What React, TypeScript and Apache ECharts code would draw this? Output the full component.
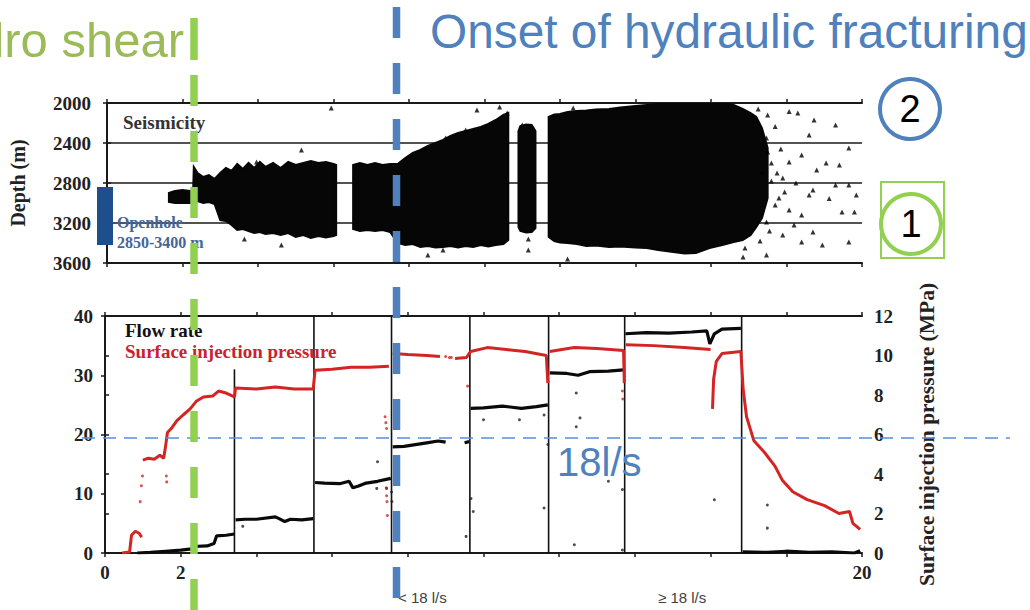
import React, { useEffect, useRef } from "react";
import * as echarts from "echarts";

// ---------- DATA ----------
const labelledDays = [0, 2, 20];

// seismic clouds: [day, top depth (m), bottom depth (m)]
const cloudEarly = [
  [1.64, 2900, 2990], [1.8, 2880, 3000], [2.0, 2870, 3000], [2.2, 2880, 3000], [2.28, 2900, 2990],
  [2.3, 2640, 3000], [2.4, 2700, 2980], [2.55, 2740, 3000], [2.7, 2720, 2990], [2.85, 2760, 3010],
  [3.0, 2700, 3170], [3.15, 2650, 3180], [3.3, 2680, 3220], [3.45, 2610, 3270], [3.6, 2660, 3260],
  [3.75, 2600, 3280], [3.9, 2650, 3300], [4.05, 2590, 3290], [4.2, 2640, 3310], [4.4, 2600, 3300],
  [4.6, 2650, 3320], [4.8, 2590, 3300], [5.0, 2620, 3340], [5.2, 2600, 3320], [5.4, 2580, 3350],
  [5.6, 2600, 3330], [5.8, 2590, 3345], [6.0, 2610, 3330], [6.07, 2620, 3320],
];
const cloudMiddle = [
  [6.52, 2620, 3260], [6.7, 2600, 3280], [6.9, 2620, 3270], [7.1, 2600, 3280], [7.3, 2620, 3270],
  [7.5, 2610, 3290], [7.7, 2610, 3400], [7.9, 2550, 3420], [8.1, 2500, 3410], [8.3, 2470, 3440],
  [8.5, 2430, 3430], [8.7, 2400, 3445], [8.9, 2370, 3440], [9.1, 2330, 3430], [9.3, 2300, 3445],
  [9.5, 2280, 3430], [9.7, 2260, 3440], [9.9, 2240, 3420], [10.1, 2210, 3435], [10.3, 2170, 3420],
  [10.5, 2120, 3410], [10.63, 2100, 3370],
];
const cloudNarrow = [
  [10.9, 2280, 3240], [10.95, 2230, 3280], [11.1, 2215, 3295], [11.25, 2220, 3290], [11.35, 2280, 3250],
];
const cloudLate = [
  [11.7, 2140, 3340], [11.85, 2115, 3380], [12.0, 2110, 3395], [12.2, 2090, 3400], [12.45, 2080, 3410],
  [12.7, 2075, 3430], [12.95, 2065, 3425], [13.3, 2060, 3440], [13.6, 2045, 3435], [14.0, 2030, 3445],
  [14.3, 2020, 3450], [14.6, 2010, 3470], [15.0, 2000, 3490], [15.3, 2000, 3505], [15.6, 2000, 3500],
  [15.96, 2000, 3450], [16.3, 2000, 3420], [16.6, 2020, 3390], [16.84, 2060, 3370], [17.05, 2100, 3320],
  [17.2, 2140, 3240], [17.35, 2250, 3150], [17.5, 2450, 2950],
];
const seismicClouds = [cloudEarly, cloudMiddle, cloudNarrow, cloudLate];

// isolated events: [day, depth]
const seismicSparse = [
  [5.94, 2050], [5.15, 2470], [4.62, 3420], [3.64, 3360], [3.96, 2590], [3.48, 2640],
  [9.8, 2070], [10.4, 2040], [10.6, 2100], [9.5, 2270], [8.97, 2350], [8.9, 3470], [8.5, 3520],
  [11.16, 3360], [11.0, 2220], [12.2, 3560], [12.35, 2050], [11.16, 3470],
  [18.07, 2085], [19.3, 2220], [18.73, 2170], [18.6, 2320], [17.7, 2235], [18.07, 2590],
  [18.4, 2520], [19.05, 2600], [19.4, 2620], [18.8, 2670], [17.9, 2750], [18.25, 2800],
  [18.7, 2870], [19.13, 2955], [19.47, 3090], [19.8, 3090], [18.4, 3120], [17.7, 3020],
  [18.07, 3070], [18.7, 3290], [18.4, 3390], [18.95, 3420], [19.65, 3390], [16.85, 3540],
  [17.47, 3520], [17.9, 3320], [17.47, 3190], [17.5, 2490], [17.47, 2350], [17.5, 2120],
  [18.3, 2100], [19.65, 2450], [19.3, 2820], [19.65, 2820], [19.85, 2920], [18.6, 2920],
  [17.35, 2690], [17.95, 2890], [17.6, 2600], [17.8, 2950], [18.2, 3220], [17.3, 3380],
  [17.6, 2780], [17.75, 2700], [17.55, 3280], [17.85, 2460], [17.25, 2060], [16.9, 3450],
];

// flow rate (l/s): [day, value]; null = gap
const flowRate: [number, number | null][] = [
  [0.85, 0.0], [1.2, 0.1], [1.6, 0.3], [2.0, 0.5], [2.3, 0.7], [2.33, 1.1], [2.7, 1.2],
  [2.88, 1.6], [2.95, 2.9], [3.2, 3.0], [3.42, 3.2], [3.43, null],
  [3.45, 5.6], [3.7, 5.7], [4.0, 5.7], [4.5, 6.1], [4.6, 5.8], [4.75, 5.3], [4.9, 5.7],
  [5.2, 5.6], [5.5, 5.8], [5.51, null],
  [5.55, 11.9], [5.8, 11.8], [6.2, 11.7], [6.45, 12.1], [6.55, 11.0], [6.7, 11.3],
  [6.9, 11.8], [7.2, 12.1], [7.55, 12.6], [7.56, null],
  [7.6, 17.9], [7.9, 18.0], [8.2, 18.3], [8.5, 18.6], [8.8, 18.9], [9.0, 18.7], [9.05, null],
  [9.5, 18.6], [9.62, 18.8], [9.63, null],
  [9.66, 24.4], [10.0, 24.5], [10.5, 24.8], [11.0, 24.4], [11.4, 24.7], [11.7, 25.0], [11.71, null],
  [11.75, 30.4], [12.2, 30.3], [12.5, 30.0], [12.8, 30.6], [13.3, 30.7], [13.7, 30.9], [13.71, null],
  [13.75, 37.0], [14.3, 37.2], [14.9, 37.1], [15.5, 37.3], [15.9, 37.5], [15.98, 35.3],
  [16.1, 37.0], [16.3, 37.8], [16.8, 37.9], [16.81, null],
  [16.85, 0.2], [17.5, 0.1], [18.0, 0.3], [18.6, 0.1], [19.2, 0.2], [19.8, 0.0], [19.95, 0.4],
];

// surface injection pressure (MPa): [day, value]; null = gap
const pressure: [number, number | null][] = [
  [0.45, 0.0], [0.65, 0.05], [0.7, 0.9], [0.8, 1.1], [0.9, 1.0], [0.97, 0.8], [0.98, null],
  [1.0, 4.7], [1.15, 4.8], [1.3, 4.75], [1.45, 4.95], [1.55, 4.8], [1.6, 5.4], [1.65, 6.1],
  [1.75, 6.3], [1.9, 6.7], [2.07, 7.0], [2.25, 7.3], [2.42, 7.7], [2.6, 7.9], [2.85, 7.95],
  [3.0, 8.2], [3.2, 8.1], [3.42, 7.9],
  [3.45, 8.35], [4.0, 8.3], [4.5, 8.4], [5.0, 8.3], [5.5, 8.3],
  [5.55, 9.25], [6.0, 9.3], [6.5, 9.4], [7.0, 9.4], [7.5, 9.45], [7.52, null],
  [7.6, 10.1], [8.0, 10.05], [8.5, 10.0], [8.85, 9.95], [8.86, null],
  [9.25, 9.85], [9.55, 9.9], [9.62, 10.1], [9.66, 10.2], [10.1, 10.4], [10.6, 10.3],
  [11.1, 10.2], [11.66, 10.0], [11.7, 8.6], [11.71, null],
  [11.75, 10.2], [12.4, 10.4], [13.0, 10.35], [13.7, 10.25], [13.72, 8.6], [13.73, null],
  [13.76, 10.55], [14.5, 10.5], [15.3, 10.4], [16.0, 10.3], [16.02, null],
  [16.05, 7.3], [16.08, 8.8], [16.15, 9.7], [16.3, 10.1], [16.8, 10.2],
  [16.86, 8.3], [16.95, 6.9], [17.14, 5.7], [17.42, 5.1], [17.7, 4.4], [17.89, 3.7],
  [18.17, 3.1], [18.55, 2.7], [19.01, 2.4], [19.39, 2.0], [19.67, 2.1], [19.76, 1.5], [19.95, 1.2],
];

const flowOutliers = [
  [3.64, 4.5], [7.18, 10.9], [7.2, 15.4], [7.44, 10.9], [7.57, 10.3], [7.58, 8.7],
  [9.67, 9.2], [9.54, 2.8], [10.0, 22.5], [10.95, 22.5], [11.6, 23.3], [9.73, 7.0],
  [11.6, 7.6], [12.45, 27.0], [12.55, 22.8], [12.45, 21.3], [13.3, 12.1], [12.4, 1.4],
  [13.67, 10.7], [16.1, 9.0], [17.5, 8.1], [17.5, 4.2], [11.7, 18.3], [13.67, 0.5],
];
const pressureOutliers = [
  [0.93, 2.6], [0.96, 3.4], [0.99, 3.9], [1.62, 3.9], [1.63, 3.6], [7.4, 6.9], [7.42, 6.6],
  [7.44, 6.3], [7.43, 3.3], [7.44, 2.9], [7.45, 2.6], [7.46, 1.9], [9.58, 8.45],
  [13.67, 8.2], [13.68, 7.8], [9.0, 9.95], [9.1, 9.9], [9.15, 9.9],
];

// injection step boundaries: day and top of the separator (l/s)
const stepDays = [3.42, 5.52, 7.57, 9.64, 11.72, 13.73, 16.82];
const stepTops = [31, 40, 40, 40, 40, 40, 40];

// ---------- STYLE ----------
const serif = "'Liberation Serif', 'Times New Roman', serif";
const sans = "'Liberation Sans', Arial, sans-serif";
const ink = "#1a1a1a";
const tickLabel = {
  fontFamily: serif,
  fontWeight: "bold" as const,
  fontSize: 19,
  color: "#222",
  formatter: (v: number) => String(v),
};
const blue = "#4F81BD";
const green = "#92D050";

function baseX(gridIndex: number, position: string, labels: boolean) {
  return {
    type: "value",
    gridIndex,
    position,
    min: 0,
    max: 20,
    interval: 2,
    axisLine: { show: true, onZero: false, lineStyle: { color: ink, width: 2 } },
    axisTick: { show: true, length: 4, lineStyle: { color: ink, width: 1.5 } },
    axisLabel: labels
      ? { show: true, ...tickLabel, margin: 10, formatter: (v: number) => (labelledDays.includes(v) ? String(v) : "") }
      : { show: false },
    splitLine: { show: false },
  };
}

const gap = (arr: [number, number | null][]) => arr.map((p) => [p[0], p[1] === null ? "-" : p[1]]);

function buildOption() {
  const text = (t: string, x: number, y: number, font: string, fill: string, align = "left", z = 50) => ({
    type: "text",
    x,
    y,
    z,
    style: { text: t, font, fill, align, textAlign: align, verticalAlign: "middle", textVerticalAlign: "middle" },
  });
  const dashLine = (x1: number, y1: number, x2: number, y2: number, stroke: string, w: number, dash: number[]) => ({
    type: "line",
    z: 100,
    shape: { x1, y1, x2, y2 },
    style: { stroke, lineWidth: w, lineDash: dash },
  });

  return {
    animation: false,
    backgroundColor: "#ffffff",
    grid: [
      { left: 105, top: 103, width: 757, height: 160 },
      { left: 105, top: 316, width: 757, height: 237 },
    ],
    xAxis: [baseX(0, "bottom", false), baseX(0, "top", false), baseX(1, "bottom", true), baseX(1, "top", false)],
    yAxis: [
      {
        type: "value",
        gridIndex: 0,
        position: "left",
        inverse: true,
        min: 2000,
        max: 3600,
        interval: 400,
        axisLine: { show: true, lineStyle: { color: ink, width: 2 } },
        axisTick: { show: true, length: 4, lineStyle: { color: ink, width: 1.5 } },
        axisLabel: { ...tickLabel, margin: 16 },
        splitLine: { show: true, lineStyle: { color: ink, width: 1.6 } },
        name: "Depth (m)",
        nameLocation: "middle",
        nameRotate: 90,
        nameGap: 79,
        nameTextStyle: { fontFamily: serif, fontWeight: "bold", fontSize: 20, color: "#222" },
      },
      {
        type: "value",
        gridIndex: 0,
        position: "right",
        inverse: true,
        min: 2000,
        max: 3600,
        interval: 400,
        axisLine: { show: true, lineStyle: { color: ink, width: 2 } },
        axisTick: { show: true, length: 4, lineStyle: { color: ink, width: 1.5 } },
        axisLabel: { show: false },
        splitLine: { show: false },
      },
      {
        type: "value",
        gridIndex: 1,
        position: "left",
        min: 0,
        max: 40,
        interval: 10,
        axisLine: { show: true, lineStyle: { color: ink, width: 2 } },
        axisTick: { show: true, length: 4, lineStyle: { color: ink, width: 1.5 } },
        axisLabel: { ...tickLabel, margin: 12 },
        splitLine: { show: false },
      },
      {
        type: "value",
        gridIndex: 1,
        position: "right",
        min: 0,
        max: 12,
        interval: 2,
        axisLine: { show: true, lineStyle: { color: ink, width: 2 } },
        axisTick: { show: true, length: 4, lineStyle: { color: ink, width: 1.5 } },
        axisLabel: { ...tickLabel, margin: 12 },
        splitLine: { show: false },
        name: "Surface injection pressure (MPa)",
        nameLocation: "middle",
        nameRotate: 90,
        nameGap: 54,
        nameTextStyle: { fontFamily: serif, fontWeight: "bold", fontSize: 21.5, color: "#222" },
      },
    ],
    series: [
      {
        type: "custom",
        name: "Seismicity cloud",
        xAxisIndex: 0,
        yAxisIndex: 0,
        clip: true,
        data: seismicClouds.map((c) => [c[0][0], c[0][1]]),
        renderItem: (params: any, api: any) => {
          const c = seismicClouds[params.dataIndex];
          const top = c.map((r) => api.coord([r[0], r[1]]));
          const bot = c
            .slice()
            .reverse()
            .map((r) => api.coord([r[0], r[2]]));
          return {
            type: "polygon",
            shape: { points: top.concat(bot) },
            style: { fill: "#060606", stroke: "#060606", lineWidth: 2, lineJoin: "miter" },
          };
        },
      },
      {
        type: "scatter",
        name: "Seismic events",
        xAxisIndex: 0,
        yAxisIndex: 0,
        symbol: "triangle",
        symbolSize: 5,
        itemStyle: { color: "#000" },
        data: seismicSparse,
      },
      {
        type: "custom",
        name: "Steps",
        xAxisIndex: 2,
        yAxisIndex: 2,
        data: stepDays.map((d, i) => [d, stepTops[i]]),
        renderItem: (params: any, api: any) => {
          const x = api.value(0);
          const p1 = api.coord([x, 0]);
          const p2 = api.coord([x, api.value(1)]);
          return {
            type: "line",
            shape: { x1: p1[0], y1: p1[1], x2: p2[0], y2: p2[1] },
            style: { stroke: "#111", lineWidth: 1.6 },
          };
        },
      },
      {
        type: "line",
        name: "Flow rate",
        xAxisIndex: 2,
        yAxisIndex: 2,
        showSymbol: false,
        connectNulls: false,
        lineStyle: { color: "#0a0a0a", width: 3.2 },
        data: gap(flowRate),
        z: 4,
      },
      {
        type: "line",
        name: "Surface injection pressure",
        xAxisIndex: 2,
        yAxisIndex: 3,
        showSymbol: false,
        connectNulls: false,
        lineStyle: { color: "#d42424", width: 3 },
        data: gap(pressure),
        z: 5,
      },
      {
        type: "scatter",
        xAxisIndex: 2,
        yAxisIndex: 2,
        symbolSize: 3,
        itemStyle: { color: "#222" },
        data: flowOutliers,
      },
      {
        type: "scatter",
        xAxisIndex: 2,
        yAxisIndex: 3,
        symbolSize: 3,
        itemStyle: { color: "#d42424" },
        data: pressureOutliers,
      },
    ],
    graphic: [
      text("Hydro shear", 184, 40, `49px ${sans}`, "#9BBB59", "right", 10),
      text("Onset of hydraulic fracturing", 430, 31, `47.8px ${sans}`, blue, "left", 10),
      text("Seismicity", 123, 122, `bold 19px ${serif}`, "#333"),
      text("Flow rate", 125, 330, `bold 19px ${serif}`, "#111"),
      text("Surface injection pressure", 125, 351, `bold 19px ${serif}`, "#cc2030"),
      text("Openhole", 117, 222, `bold 16px ${serif}`, "#45659a"),
      text("2850-3400 m", 117, 242, `bold 16px ${serif}`, "#45659a"),
      { type: "rect", z: 40, shape: { x: 97, y: 187, width: 16, height: 58 }, style: { fill: "#1F4E8C" } },
      text("18l/s", 557, 462, `40px ${sans}`, blue, "left", 60),
      text("< 18 l/s", 398, 597, `15px ${sans}`, "#404040", "left", 10),
      text("\u2265 18 l/s", 658, 597, `15px ${sans}`, "#404040", "left", 10),
      dashLine(82, 438, 1010, 438, "#5B8FD6", 1.5, [13, 8]),
      { type: "line", z: 100, shape: { x1: 194, y1: 18, x2: 194, y2: 60 }, style: { stroke: green, lineWidth: 7.5 } },
      dashLine(194, 75, 194, 610, green, 7.5, [31, 25]),
      dashLine(396.5, 7, 396.5, 598, blue, 7.5, [31, 25]),
      { type: "circle", z: 60, shape: { cx: 910, cy: 109, r: 30 }, style: { fill: "none", stroke: blue, lineWidth: 4 } },
      text("2", 910, 109, `38px ${sans}`, "#000", "center", 61),
      { type: "rect", z: 60, shape: { x: 881, y: 182, width: 63, height: 76 }, style: { fill: "none", stroke: green, lineWidth: 2 } },
      { type: "circle", z: 60, shape: { cx: 911, cy: 224, r: 30 }, style: { fill: "none", stroke: green, lineWidth: 4 } },
      text("1", 911, 224, `38px ${sans}`, "#000", "center", 61),
    ],
  };
}

export default function App() {
  const ref = useRef<HTMLDivElement>(null);
  useEffect(() => {
    if (!ref.current) return;
    const chart = echarts.init(ref.current, null, { renderer: "svg" });
    chart.setOption(buildOption() as any);
    return () => chart.dispose();
  }, []);
  return <div ref={ref} style={{ position: "fixed", left: 0, top: 0, width: 1030, height: 610, background: "#fff" }} />;
}
